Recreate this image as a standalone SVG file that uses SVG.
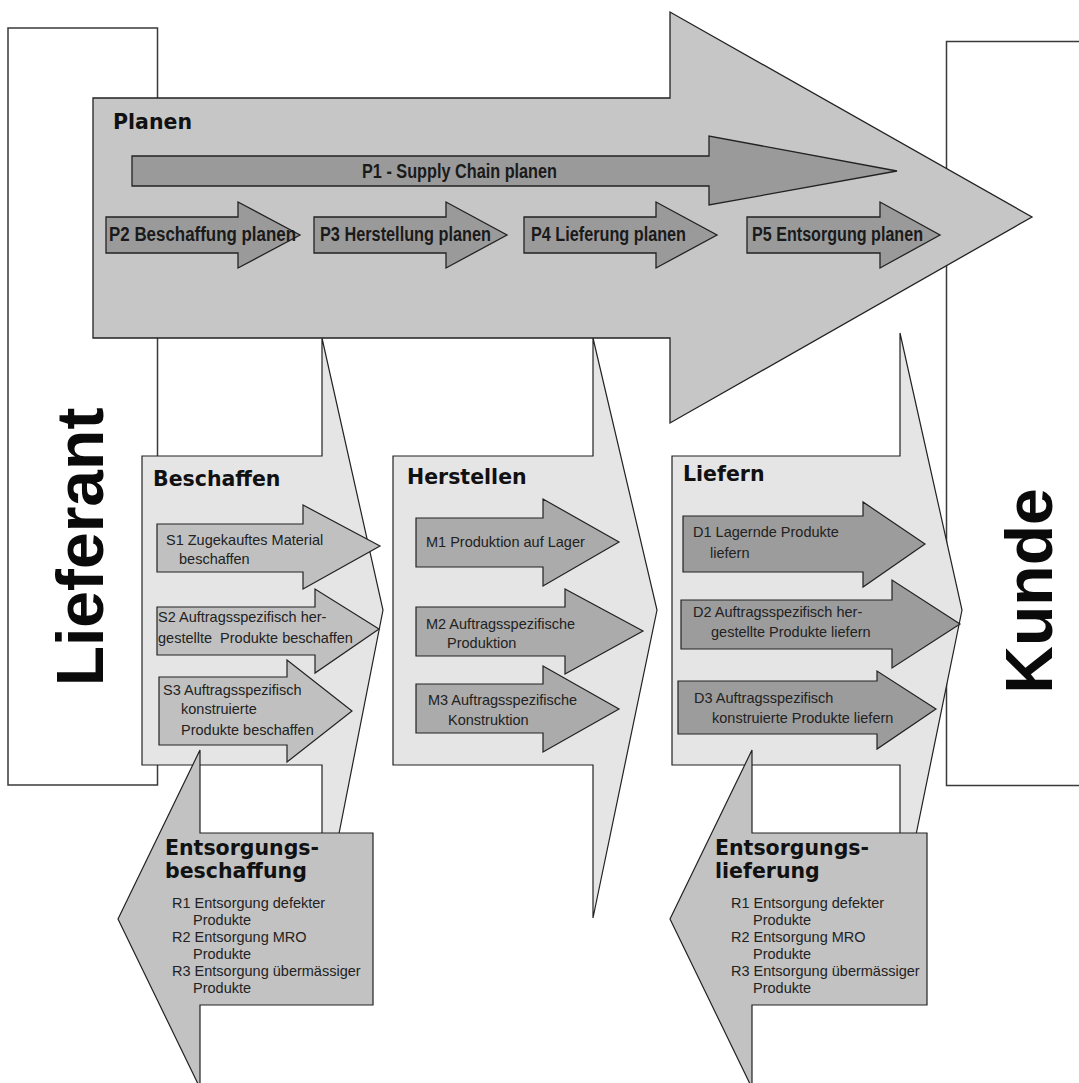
<svg xmlns="http://www.w3.org/2000/svg" width="1079" height="1083" viewBox="0 0 1079 1083">
<style>
.box{fill:#fff;stroke:#3a3a3a;stroke-width:1.5}
.plan{fill:#c6c6c6;stroke:#222;stroke-width:1.3}
.chev{fill:#e5e5e5;stroke:#222;stroke-width:1.2}
.parr{fill:#9a9a9a;stroke:#222;stroke-width:1.3}
.sarr{fill:#c0c0c0;stroke:#222;stroke-width:1.2}
.marr{fill:#ababab;stroke:#222;stroke-width:1.2}
.darr{fill:#9c9c9c;stroke:#222;stroke-width:1.2}
.rarr{fill:#c2c2c2;stroke:#222;stroke-width:1.2}
.hd{font-family:'DejaVu Sans',Verdana,sans-serif;font-weight:bold;font-size:20.5px;fill:#111}
.pl{font-family:'Liberation Sans',Arial,sans-serif;font-weight:bold;font-size:20px;fill:#1a1a1a}
.sm{font-family:'Liberation Sans',Arial,sans-serif;font-size:14.5px;fill:#222}
.big{font-family:'Liberation Sans',Arial,sans-serif;font-weight:bold;font-size:66px;fill:#0a0a0a}
</style>
<g id="lieferant-box"><rect class="box" x="8" y="28" width="149.5" height="757"/></g>
<g id="kunde-box"><rect class="box" x="946.5" y="41.5" width="200" height="744"/></g>
<g id="beschaffen">
<path class="chev" d="M142,456 H322 V338 L383,610 L322,920 V765 H142 Z"/>
<text class="hd" x="153" y="486">Beschaffen</text>
</g>
<g id="herstellen">
<path class="chev" d="M393,456 H593 V338 L657,610 L593,918 V765 H393 Z"/>
<text class="hd" x="407" y="484">Herstellen</text>
</g>
<g id="liefern">
<path class="chev" d="M672,456 H900 V333 L962,610 L900,913 V765 H672 Z"/>
<text class="hd" x="683" y="481">Liefern</text>
</g>
<g id="planen">
<path class="plan" d="M93,98 H670 V12 L1032,217 L670,423 V338 H93 Z"/>
<text class="hd" x="113" y="129">Planen</text>
</g>
<g id="p1"><path class="parr" d="M132,156 H709 V136 L897,171 L709,205 V186 H132 Z"/><text class="pl" x="362" y="178" textLength="195" lengthAdjust="spacingAndGlyphs">P1 - Supply Chain planen</text></g>
<g id="p2"><path class="parr" d="M106,217 H238 V202 L300,235 L238,268 V253 H106 Z"/><text class="pl" x="109" y="241" textLength="187" lengthAdjust="spacingAndGlyphs">P2 Beschaffung planen</text></g>
<g id="p3"><path class="parr" d="M314,217 H446 V202 L507,235 L446,268 V253 H314 Z"/><text class="pl" x="320" y="241" textLength="171" lengthAdjust="spacingAndGlyphs">P3 Herstellung planen</text></g>
<g id="p4"><path class="parr" d="M524,217 H656 V202 L717,235 L656,268 V253 H524 Z"/><text class="pl" x="531" y="241" textLength="155" lengthAdjust="spacingAndGlyphs">P4 Lieferung planen</text></g>
<g id="p5"><path class="parr" d="M747,217 H880 V202 L940,235 L880,268 V253 H747 Z"/><text class="pl" x="752" y="241" textLength="171" lengthAdjust="spacingAndGlyphs">P5 Entsorgung planen</text></g>
<g id="s1"><path class="sarr" d="M157,524 H303 V505 L380,546 L303,589 V572 H157 Z"/><text class="sm" x="166" y="545">S1 Zugekauftes Material</text><text class="sm" x="179" y="564">beschaffen</text></g>
<g id="s2"><path class="sarr" d="M157,607 H315 V589 L379,629 L315,673 V655 H157 Z"/><text class="sm" x="158" y="622">S2 Auftragsspezifisch her-</text><text class="sm" x="158" y="643" xml:space="preserve">gestellte  Produkte beschaffen</text></g>
<g id="s3"><path class="sarr" d="M159,677 H287 V660 L352,711 L287,762 V745 H159 Z"/><text class="sm" x="163" y="695">S3 Auftragsspezifisch</text><text class="sm" x="181" y="714">konstruierte</text><text class="sm" x="181" y="735">Produkte beschaffen</text></g>
<g id="m1"><path class="marr" d="M416,518 H543 V499 L619,542 L543,586 V567 H416 Z"/><text class="sm" x="426" y="547">M1 Produktion auf Lager</text></g>
<g id="m2"><path class="marr" d="M416,607 H565 V589 L643,631 L565,674 V656 H416 Z"/><text class="sm" x="426" y="629">M2 Auftragsspezifische</text><text class="sm" x="447" y="648">Produktion</text></g>
<g id="m3"><path class="marr" d="M416,684 H543 V666 L619,709 L543,752 V733 H416 Z"/><text class="sm" x="428" y="705">M3 Auftragsspezifische</text><text class="sm" x="448" y="725">Konstruktion</text></g>
<g id="d1"><path class="darr" d="M683,516 H863 V502 L925,544 L863,587 V572 H683 Z"/><text class="sm" x="693" y="537">D1 Lagernde Produkte</text><text class="sm" x="710" y="558">liefern</text></g>
<g id="d2"><path class="darr" d="M681,600 H892 V580 L960,624 L892,668 V649 H681 Z"/><text class="sm" x="693" y="617">D2 Auftragsspezifisch her-</text><text class="sm" x="711" y="637">gestellte Produkte liefern</text></g>
<g id="d3"><path class="darr" d="M678,681 H877 V671 L936,709 L877,749 V734 H678 Z"/><text class="sm" x="694" y="703">D3 Auftragsspezifisch</text><text class="sm" x="712" y="723">konstruierte Produkte liefern</text></g>
<g id="entsorgungsbeschaffung">
<path class="rarr" d="M118,919 L200,750 V833 H373 V1005 H200 V1088 Z"/>
<text class="hd" x="165" y="855">Entsorgungs-</text>
<text class="hd" x="165" y="878">beschaffung</text>
<text class="sm" x="172" y="908">R1 Entsorgung defekter</text>
<text class="sm" x="193" y="925">Produkte</text>
<text class="sm" x="172" y="942">R2 Entsorgung MRO</text>
<text class="sm" x="193" y="959">Produkte</text>
<text class="sm" x="172" y="976">R3 Entsorgung übermässiger</text>
<text class="sm" x="193" y="993">Produkte</text>
</g>
<g id="entsorgungslieferung">
<path class="rarr" d="M670,919 L752,750 V833 H927 V1005 H752 V1088 Z"/>
<text class="hd" x="715" y="855">Entsorgungs-</text>
<text class="hd" x="715" y="878">lieferung</text>
<text class="sm" x="731" y="908">R1 Entsorgung defekter</text>
<text class="sm" x="753" y="925">Produkte</text>
<text class="sm" x="731" y="942">R2 Entsorgung MRO</text>
<text class="sm" x="753" y="959">Produkte</text>
<text class="sm" x="731" y="976">R3 Entsorgung übermässiger</text>
<text class="sm" x="753" y="993">Produkte</text>
</g>
<g id="labels">
<text class="big" text-anchor="middle" transform="translate(103,547) rotate(-90)">Lieferant</text>
<text class="big" text-anchor="middle" transform="translate(1052,591) rotate(-90)">Kunde</text>
</g>
<g id="connectors"></g>
</svg>
